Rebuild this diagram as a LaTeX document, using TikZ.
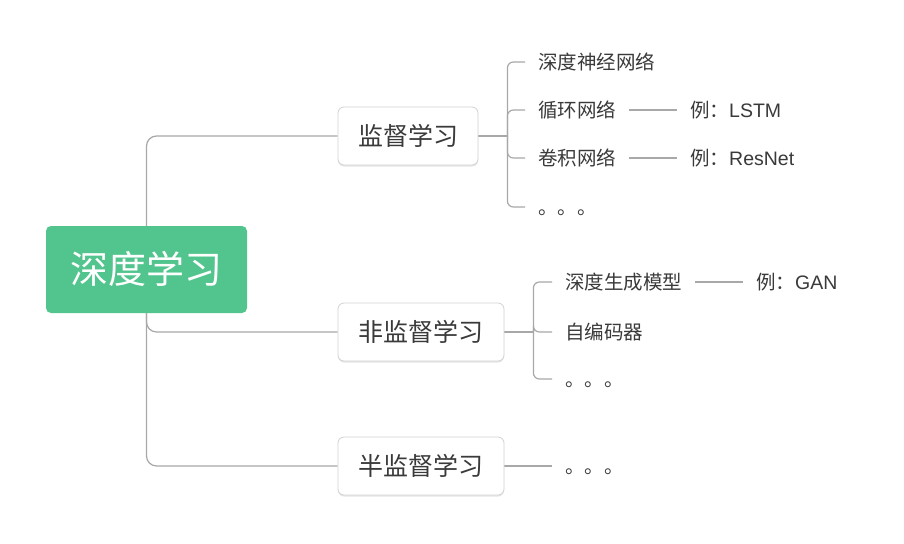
\documentclass[tikz,border=0pt]{standalone}
\usepackage{fontspec}
\setmainfont{Noto Sans CJK SC}
\newfontfamily\lat{Liberation Sans}
\usetikzlibrary{backgrounds,shadows}
\definecolor{rootgreen}{HTML}{52C48D}
\definecolor{txt}{HTML}{3A3A3A}
\definecolor{ln}{HTML}{A8A8A8}
\definecolor{bd}{HTML}{D2D2D2}
\tikzset{
  rootbox/.style={fill=rootgreen, rounded corners=5pt, minimum width=201pt, minimum height=87pt,
    inner sep=0pt, text=white, font=\fontsize{38}{38}\selectfont, text height=33pt, text depth=5pt},
  catbox/.style={draw=bd, line width=0.8pt, fill=white, rounded corners=6pt, minimum height=58pt,
    inner sep=0pt, text=txt, font=\fontsize{25}{25}\selectfont, text height=22pt, text depth=3pt,
    drop shadow={shadow xshift=0pt, shadow yshift=-1.5pt, opacity=.10, fill=black}},
  leaf/.style={anchor=west, inner xsep=13pt, inner ysep=0pt, text=txt,
    font=\fontsize{19.5}{19.5}\selectfont, text height=17pt, text depth=2.5pt},
  conn/.style={draw=ln, line width=1.2pt}
}
\begin{document}
\begin{tikzpicture}[x=1pt,y=-1pt]
\useasboundingbox (0,0) rectangle (904,543);
\node[rootbox] (root) at (146.5,269.5) {深度学习};
\node[catbox, minimum width=140pt] (sup) at (408,136) {监督学习};
\node[catbox, minimum width=166pt] (unsup) at (421,332) {非监督学习};
\node[catbox, minimum width=166pt] (semi) at (421,466) {半监督学习};

\node[leaf] (dnn) at (525,62) {深度神经网络};
\node[leaf] (rnn) at (525,110) {循环网络};
\node[leaf] (cnn) at (525,158) {卷积网络};
\node[leaf] (d1) at (525,207) {。。。};
\node[leaf] (lstm) at (677,110) {例：{\lat LSTM}};
\node[leaf] (resnet) at (677,158) {例：{\lat ResNet}};
\node[leaf] (gen) at (552,282) {深度生成模型};
\node[leaf] (ae) at (552,332) {自编码器};
\node[leaf] (d2) at (552,379) {。。。};
\node[leaf] (gan) at (743,282) {例：{\lat GAN}};
\node[leaf] (d3) at (552,466) {。。。};

\begin{scope}[on background layer]
  \fill[white] (0,0) rectangle (904,543);
  \foreach \c in {sup,unsup,semi}
    \draw[conn, rounded corners=10pt] (root.center) |- (\c.west);
  \coordinate (j1) at ([xshift=29pt]sup.east);
  \draw[conn] (sup.east) -- (j1);
  \foreach \c in {dnn,rnn,cnn,d1}
    \draw[conn, rounded corners=6pt] (j1) |- (\c.west);
  \coordinate (j2) at ([xshift=29pt]unsup.east);
  \draw[conn] (unsup.east) -- (j2);
  \foreach \c in {gen,ae,d2}
    \draw[conn, rounded corners=6pt] (j2) |- (\c.west);
  \draw[conn] (semi.east) -- (d3.west);
  \draw[conn] (rnn.east) -- (lstm.west);
  \draw[conn] (cnn.east) -- (resnet.west);
  \draw[conn] (gen.east) -- (gan.west);
\end{scope}
\end{tikzpicture}
\end{document}
